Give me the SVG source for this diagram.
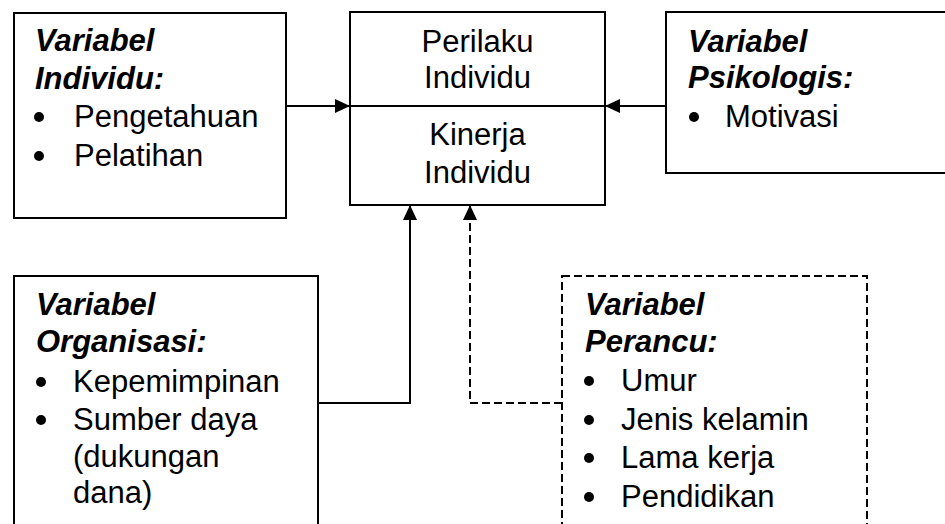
<svg xmlns="http://www.w3.org/2000/svg" width="945" height="524" viewBox="0 0 945 524">
<style>
.box{fill:#fff;stroke:#000;stroke-width:2}
.dash{stroke-dasharray:8 4}
.t{font-family:"Liberation Sans",Arial,sans-serif;font-size:31px;fill:#000}
.h{font-weight:bold;font-style:italic}
.c{text-anchor:middle}
.ln{fill:none;stroke:#000;stroke-width:2}
.b{fill:#000}
</style>
<defs>
<marker id="ah" viewBox="0 0 15 14" refX="15" refY="7" markerWidth="15" markerHeight="14" markerUnits="userSpaceOnUse" orient="auto">
<path d="M0,0 L15,7 L0,14 Z" fill="#000"/>
</marker>
</defs>
<rect width="945" height="524" fill="#fff"/>
<g id="connectors">
<line class="ln" x1="286" y1="106" x2="350" y2="106" marker-end="url(#ah)"/>
<line class="ln" x1="666" y1="106" x2="605" y2="106" marker-end="url(#ah)"/>
<path class="ln" d="M318,403 H410 V205" marker-end="url(#ah)"/>
<path class="ln dash" d="M562,403 H470 V205" marker-end="url(#ah)"/>
</g>
<g id="individu">
<rect class="box" x="14" y="13" width="272" height="205"/>
<text class="t h" x="35" y="51">Variabel</text>
<text class="t h" x="35" y="89">Individu:</text>
<circle class="b" cx="39" cy="117" r="5"/>
<text class="t" x="74" y="127">Pengetahuan</text>
<circle class="b" cx="39" cy="156" r="5"/>
<text class="t" x="74" y="166">Pelatihan</text>
</g>
<g id="perilaku">
<rect class="box" x="350" y="12" width="255" height="193"/>
<line class="ln" x1="350" y1="106" x2="605" y2="106"/>
<text class="t c" x="477.5" y="52">Perilaku</text>
<text class="t c" x="477.5" y="88">Individu</text>
<text class="t c" x="477.5" y="145">Kinerja</text>
<text class="t c" x="477.5" y="183">Individu</text>
</g>
<g id="psikologis">
<rect class="box" x="666" y="12" width="290" height="161"/>
<text class="t h" x="688" y="52">Variabel</text>
<text class="t h" x="688" y="88">Psikologis:</text>
<circle class="b" cx="694" cy="117" r="5"/>
<text class="t" x="725" y="127">Motivasi</text>
</g>
<g id="organisasi">
<rect class="box" x="14" y="276" width="304" height="260"/>
<text class="t h" x="36" y="315">Variabel</text>
<text class="t h" x="36" y="352">Organisasi:</text>
<circle class="b" cx="41" cy="382" r="5"/>
<text class="t" x="73" y="392">Kepemimpinan</text>
<circle class="b" cx="41" cy="420" r="5"/>
<text class="t" x="73" y="430">Sumber daya</text>
<text class="t" x="73" y="467">(dukungan</text>
<text class="t" x="73" y="503">dana)</text>
</g>
<g id="perancu">
<rect class="box dash" x="562" y="276" width="305" height="260"/>
<text class="t h" x="585" y="315">Variabel</text>
<text class="t h" x="585" y="352">Perancu:</text>
<circle class="b" cx="589" cy="381" r="5"/>
<text class="t" x="621" y="391">Umur</text>
<circle class="b" cx="589" cy="420" r="5"/>
<text class="t" x="621" y="430">Jenis kelamin</text>
<circle class="b" cx="589" cy="458" r="5"/>
<text class="t" x="621" y="468">Lama kerja</text>
<circle class="b" cx="589" cy="497" r="5"/>
<text class="t" x="621" y="507">Pendidikan</text>
</g>
</svg>
